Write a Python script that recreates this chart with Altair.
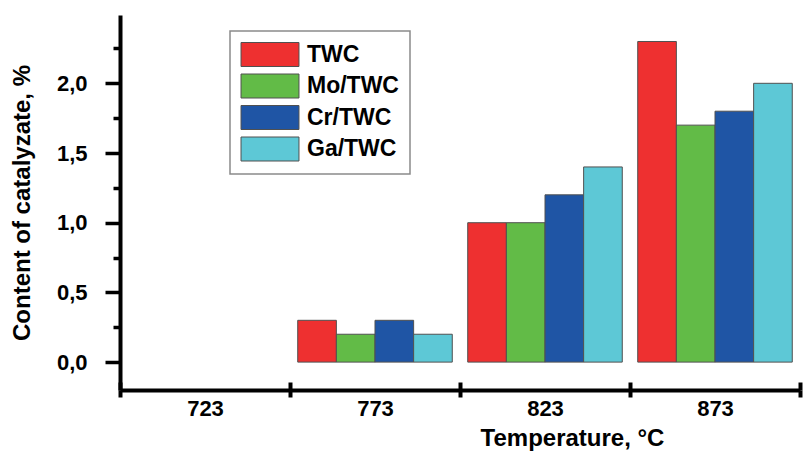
import altair as alt
import pandas as pd

# ---- data ----
temperatures = ["723", "773", "823", "873"]
measured_temperatures = ["773", "823", "873"]   # no bars at 723
catalysts = ["TWC", "Mo/TWC", "Cr/TWC", "Ga/TWC"]
twc = [0.3, 1.0, 2.3]
mo_twc = [0.2, 1.0, 1.7]
cr_twc = [0.3, 1.2, 1.8]
ga_twc = [0.2, 1.4, 2.0]
colors = ["#EE3030", "#62BB47", "#1F55A5", "#5DC8D6"]
y_tick_values = [0, 0.25, 0.5, 0.75, 1.0, 1.25, 1.5, 1.75, 2.0, 2.25]

rows = []
for cat, vals in zip(catalysts, [twc, mo_twc, cr_twc, ga_twc]):
    for t, v in zip(measured_temperatures, vals):
        rows.append({"Temperature": t, "Catalyst": cat, "Content": v})
df = pd.DataFrame(rows)

font = "Liberation Sans"
legend_path = "M-1.04,-1H3.79V1H-1.04Z"
plot_h = 375

chart = alt.Chart(df).mark_bar(stroke="#505050", strokeWidth=1).encode(
    x=alt.X(
        "Temperature:N",
        scale=alt.Scale(domain=temperatures, paddingInner=0, paddingOuter=0),
        axis=alt.Axis(
            title="Temperature, °C",
            labelAngle=0,
            tickBand="extent",
            tickSize=7,
            tickWidth=4,
            tickColor="black",
            domainWidth=4,
            domainColor="black",
            grid=True,
            gridColor="black",
            gridWidth=4,
            gridDash=[8, plot_h - 8],
            gridDashOffset=8,
            labelFont=font,
            labelFontSize=22,
            labelFontWeight="bold",
            labelColor="black",
            labelPadding=1,
            titleFont=font,
            titleFontSize=24,
            titleFontWeight="bold",
            titleColor="black",
            titleX=452,
            titleY=55,
            titleAlign="center",
            titleBaseline="alphabetic",
        ),
    ),
    xOffset=alt.XOffset(
        "Catalyst:N",
        sort=catalysts,
        scale=alt.Scale(domain=catalysts, paddingOuter=0.2, paddingInner=0),
    ),
    y=alt.Y(
        "Content:Q",
        scale=alt.Scale(domain=[-0.2, 2.49], nice=False, zero=False),
        axis=alt.Axis(
            title="Content of catalyzate, %",
            values=y_tick_values,
            labelExpr="datum.value % 0.5 === 0 ? replace(format(datum.value, '.1f'), '.', ',') : ''",
            tickSize=15,
            tickDash={"condition": {"test": "datum.value % 0.5 !== 0", "value": [7, 100]}, "value": [15, 0]},
            tickWidth=3.5,
            tickColor="black",
            domainWidth=4,
            domainColor="black",
            grid=False,
            labelFont=font,
            labelFontSize=22,
            labelFontWeight="bold",
            labelColor="black",
            labelPadding=18,
            titleFont=font,
            titleFontSize=24,
            titleFontWeight="bold",
            titleColor="black",
            titleX=-91,
            titleBaseline="alphabetic",
        ),
    ),
    fill=alt.Fill(
        "Catalyst:N",
        sort=catalysts,
        scale=alt.Scale(domain=catalysts, range=colors),
        legend=alt.Legend(
            orient="none",
            legendX=110,
            legendY=16,
            title=None,
            symbolType=legend_path,
            symbolSize=576,
            symbolStrokeColor="#505050",
            symbolStrokeWidth=1,
            symbolOpacity=1,
            labelFont=font,
            labelFontSize=23,
            labelFontWeight="bold",
            labelColor="black",
            labelOffset=41,
            rowPadding=2.5,
            padding=11,
            strokeColor="#8a8a8a",
            fillColor="white",
        ),
    ),
).properties(
    width=680,
    height=plot_h,
    autosize=alt.AutoSizeParams(type="none"),
    padding={"left": 120, "top": 15, "right": 3, "bottom": 62},
).configure_view(strokeWidth=0).configure_legend(strokeWidth=1.5)

chart.save("out.html", embed_options={"renderer": "svg", "actions": False})
